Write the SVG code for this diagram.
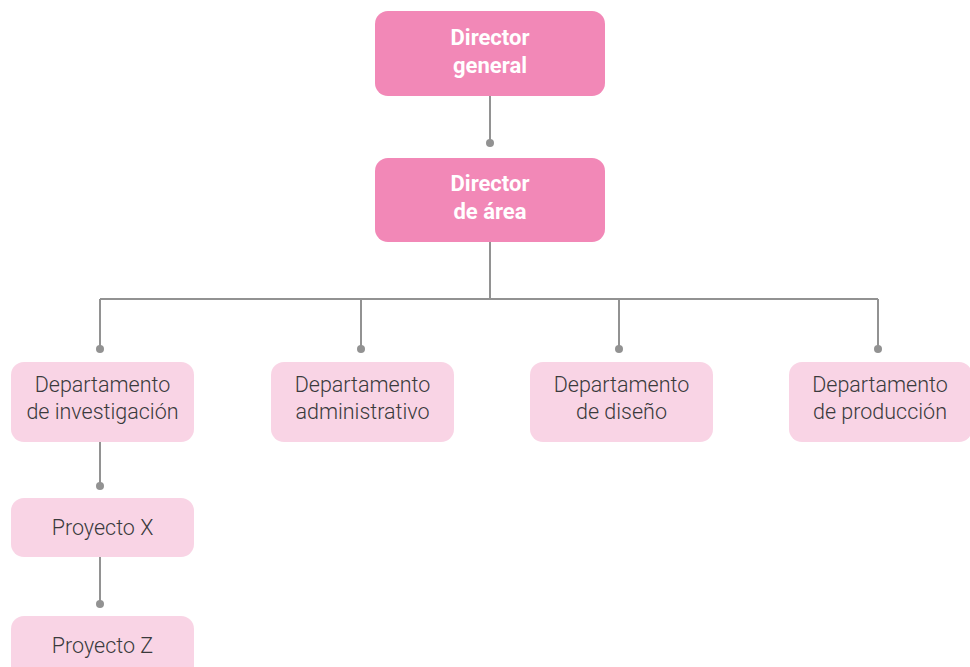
<svg xmlns="http://www.w3.org/2000/svg" width="970" height="667" viewBox="0 0 970 667">
<style>
.top{fill:#f288b7}
.sub{fill:#f9d4e5}
.tb{font-family:"Roboto","Liberation Sans",sans-serif;font-weight:700;font-size:22px;fill:#ffffff;text-anchor:middle}
.tl{font-family:"Roboto","Liberation Sans",sans-serif;font-weight:300;font-size:21.5px;fill:#3a3a3c;text-anchor:middle}
.ln{stroke:#929292;stroke-width:2;fill:none}
.dot{fill:#929292}
</style>
<rect width="970" height="667" fill="#ffffff"/>
<g id="connectors">
<path class="ln" d="M490 96V143"/>
<circle class="dot" cx="490" cy="143" r="4"/>
<path class="ln" d="M490 242V299M100 299H878M100 299V349M361 299V349M619 299V349M878 299V349"/>
<circle class="dot" cx="100" cy="349" r="4"/>
<circle class="dot" cx="361" cy="349" r="4"/>
<circle class="dot" cx="619" cy="349" r="4"/>
<circle class="dot" cx="878" cy="349" r="4"/>
<path class="ln" d="M100 442V486M100 557V604"/>
<circle class="dot" cx="100" cy="486" r="4"/>
<circle class="dot" cx="100" cy="604" r="4"/>
</g>
<g id="director-general">
<rect class="top" x="375" y="11" width="230" height="85" rx="13"/>
<text class="tb" x="490" y="45">Director</text>
<text class="tb" x="490" y="73">general</text>
</g>
<g id="director-area">
<rect class="top" x="375" y="158" width="230" height="84" rx="13"/>
<text class="tb" x="490" y="191">Director</text>
<text class="tb" x="490" y="219">de área</text>
</g>
<g id="dep-investigacion">
<rect class="sub" x="11" y="362" width="183" height="80" rx="13"/>
<text class="tl" x="102.5" y="392">Departamento</text>
<text class="tl" x="102.5" y="419">de investigación</text>
</g>
<g id="dep-administrativo">
<rect class="sub" x="271" y="362" width="183" height="80" rx="13"/>
<text class="tl" x="362.5" y="392">Departamento</text>
<text class="tl" x="362.5" y="419">administrativo</text>
</g>
<g id="dep-diseno">
<rect class="sub" x="530" y="362" width="183" height="80" rx="13"/>
<text class="tl" x="621.5" y="392">Departamento</text>
<text class="tl" x="621.5" y="419">de diseño</text>
</g>
<g id="dep-produccion">
<rect class="sub" x="789" y="362" width="183" height="80" rx="13"/>
<text class="tl" x="880" y="392">Departamento</text>
<text class="tl" x="880" y="419">de producción</text>
</g>
<g id="proyecto-x">
<rect class="sub" x="11" y="498" width="183" height="59" rx="13"/>
<text class="tl" x="102.5" y="535">Proyecto X</text>
</g>
<g id="proyecto-z">
<rect class="sub" x="11" y="616" width="183" height="70" rx="13"/>
<text class="tl" x="102.5" y="653">Proyecto Z</text>
</g>
</svg>
